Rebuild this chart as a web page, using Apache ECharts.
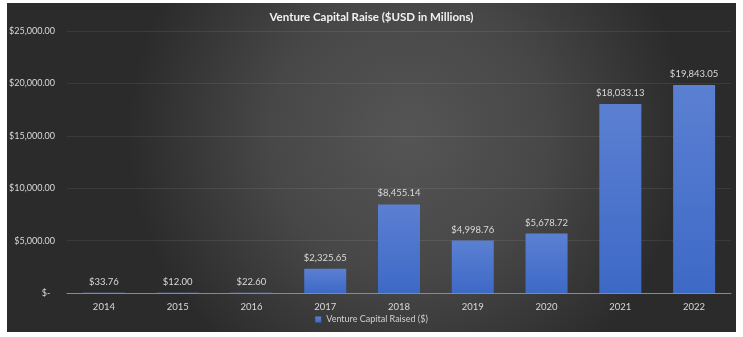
<!DOCTYPE html>
<html>
<head>
<meta charset="utf-8">
<script src="https://cdn.jsdelivr.net/npm/echarts@6/dist/echarts.min.js"></script>
<style>
html,body{margin:0;padding:0;background:#fff;}
#c{width:743px;height:337px;}
</style>
</head>
<body>
<div id="c"></div>
<script>
var categories = ['2014','2015','2016','2017','2018','2019','2020','2021','2022'];
var values = [33.76, 12.00, 22.60, 2325.65, 8455.14, 4998.76, 5678.72, 18033.13, 19843.05];
var seriesName = 'Venture Capital Raised ($)';
var titleText = 'Venture Capital Raise ($USD in Millions)';

function money(v){
  return '$' + Number(v).toLocaleString('en-US',{minimumFractionDigits:2,maximumFractionDigits:2});
}
var FONT = 'Lato';
var chart = echarts.init(document.getElementById('c'), null, {renderer:'canvas'});
chart.setOption({
  backgroundColor: '#ffffff',
  animation: false,
  graphic: [{
    type: 'rect', z: -10, silent: true,
    shape: {x: 7, y: 3, width: 729, height: 329},
    style: {
      fill: new echarts.graphic.RadialGradient(0.55, 0.4, 0.85, [
        {offset: 0, color: '#555555'},
        {offset: 0.5, color: '#474747'},
        {offset: 1, color: '#2b2b2b'}
      ])
    }
  }],
  title: {
    text: titleText, left: 'center', top: 6,
    textStyle: {color: '#f2f2f2', fontSize: 11.5, fontWeight: 'bold', fontFamily: FONT}
  },
  legend: {
    bottom: 8, left: 'center',
    icon: 'rect', itemWidth: 6, itemHeight: 6, itemGap: 6,
    textStyle: {color: '#d0d0d0', fontSize: 9, fontFamily: FONT},
    data: [seriesName]
  },
  grid: {left: 67, right: 12, top: 31, bottom: 44},
  xAxis: {
    type: 'category', data: categories,
    axisLine: {lineStyle: {color: '#8a8a8a', width: 1}},
    axisTick: {show: false},
    axisLabel: {color: '#d9d9d9', fontSize: 9.5, fontFamily: FONT, margin: 9}
  },
  yAxis: {
    type: 'value', min: 0, max: 25000, interval: 5000,
    axisLine: {show: false}, axisTick: {show: false},
    splitLine: {lineStyle: {color: 'rgba(255,255,255,0.08)', width: 1}},
    axisLabel: {
      color: '#d9d9d9', fontSize: 9, fontFamily: FONT, margin: 12,
      formatter: function(v){ return v === 0 ? '$-  ' : money(v); }
    }
  },
  series: [{
    name: seriesName, type: 'bar', data: values, barWidth: 42,
    itemStyle: {
      color: new echarts.graphic.LinearGradient(0,0,0,1,[
        {offset: 0, color: '#5b80d2'},
        {offset: 1, color: '#3d69c6'}
      ])
    },
    label: {
      show: true, position: 'top', distance: 6,
      color: '#d9d9d9', fontSize: 9.5, fontFamily: FONT,
      formatter: function(p){ return money(p.value); }
    }
  }]
});
</script>
</body>
</html>
